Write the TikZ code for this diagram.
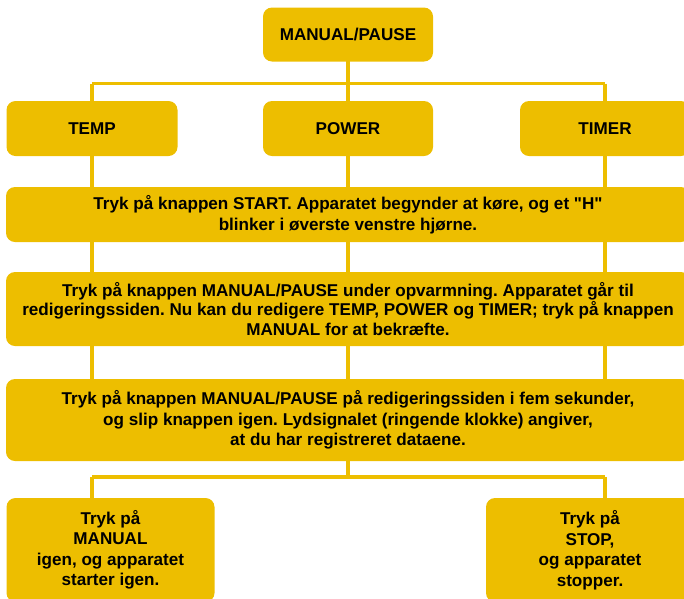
\documentclass[tikz,border=0pt]{standalone}
\usepackage{fontspec}
\setmainfont{Liberation Sans}[Ligatures=TeXOff]
\definecolor{gold}{RGB}{237,190,0}
\begin{document}
\frenchspacing
\begin{tikzpicture}[x=1pt,y=-1pt,
  box/.style={fill=gold, rounded corners=9pt, inner sep=0pt, align=center,
    font=\fontsize{17.1}{20.5}\selectfont\bfseries},
  link/.style={draw=gold, line width=3.2pt}]
\useasboundingbox (0,0) rectangle (684,598);
\clip (0,0) rectangle (684,598);
% connector coordinates
\coordinate (hl) at (92,83.5);
\coordinate (hr) at (605,83.5);
\coordinate (hm) at (348,83.5);
\coordinate (bl) at (92,477);
\coordinate (br) at (605,477);
\coordinate (bm) at (348,477);
% connectors
\path[link] (348,40) -- (hm);
\path[link] (hl) -- (hr);
\path[link] (hl) -- (92,400);
\path[link] (hm) -- (348,400);
\path[link] (hr) -- (605,400);
\path[link] (348,440) -- (bm);
\path[link] (bl) -- (br);
\path[link] (bl) -- (92,520);
\path[link] (br) -- (605,520);
% boxes
\node[box, minimum width=170pt, minimum height=54pt] (mp) at (348,34.5) {MANUAL/PAUSE};
\node[box, minimum width=171pt, minimum height=55pt] (temp) at (92,128.5) {TEMP};
\node[box, minimum width=170pt, minimum height=55pt] (power) at (348,128.5) {POWER};
\node[box, minimum width=170pt, minimum height=55pt] (timer) at (605,128.5) {TIMER};
\node[box, minimum width=684pt, minimum height=55pt] (s1) at (348,214.5)
  {Tryk på knappen START. Apparatet begynder at køre, og et "H"\\blinker i øverste venstre hjørne.};
\node[box, minimum width=684pt, minimum height=74pt, font=\fontsize{17.1}{19.3}\selectfont\bfseries] (s2) at (348,309)
  {Tryk på knappen MANUAL/PAUSE under opvarmning. Apparatet går til\\redigeringssiden. Nu kan du redigere TEMP, POWER og TIMER; tryk på knappen\\MANUAL for at bekræfte.};
\node[box, minimum width=684pt, minimum height=82pt] (s3) at (348,420)
  {Tryk på knappen MANUAL/PAUSE på redigeringssiden i fem sekunder,\\og slip knappen igen. Lydsignalet (ringende klokke) angiver,\\at du har registreret dataene.};
\node[box, minimum width=208pt, minimum height=104pt] (left) at (110.5,550)
  {Tryk på\\MANUAL\\igen, og apparatet\\starter igen.};
\node[box, minimum width=208pt, minimum height=104pt] (right) at (590,550)
  {Tryk på\\STOP,\\og apparatet\\stopper.};
\end{tikzpicture}
\end{document}
